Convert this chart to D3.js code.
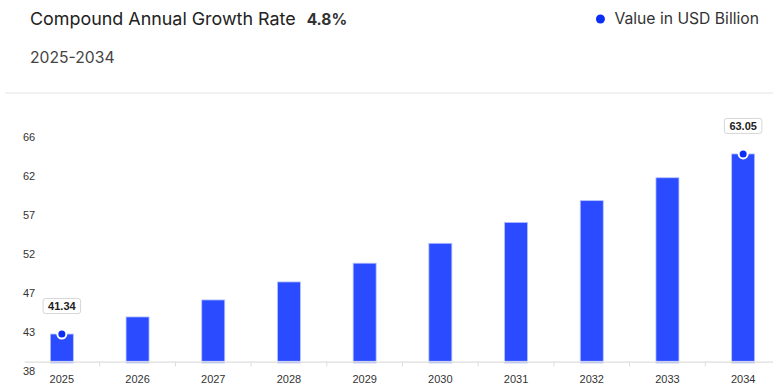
<!DOCTYPE html>
<html>
<head>
<meta charset="utf-8">
<script src="https://cdn.jsdelivr.net/npm/d3@7"></script>
<style>
  html, body { margin: 0; padding: 0; background: #fff; }
  svg { display: block; }
</style>
</head>
<body>
<svg id="chart" width="773" height="385"></svg>
<script>
// Market size by year, USD billion
const years = ["2025", "2026", "2027", "2028", "2029", "2030", "2031", "2032", "2033", "2034"];
const values = [41.34, 43.4, 45.45, 47.62, 49.88, 52.28, 54.8, 57.42, 60.18, 63.05];
const yTickLabels = ["38", "43", "47", "52", "57", "62", "66"];
const labelledYears = ["2025", "2034"];
const cagrText = "4.8%";
const periodText = "2025-2034";
const legendText = "Value in USD Billion";

const W = 773, H = 385;
const svg = d3.select("#chart");
const barColor = "#2a4bff";
const dotColor = "#0a2ef5";

// Header
const header = svg.append("g").attr("font-family", "Inter, 'Noto Sans', sans-serif");
const title = header.append("text")
  .attr("x", 30).attr("y", 25)
  .attr("font-size", 17.9).attr("fill", "#222")
  .text("Compound Annual Growth Rate");
const tw = title.node().getComputedTextLength();
header.append("text")
  .attr("x", 30 + tw + 11).attr("y", 25)
  .attr("font-size", 15.5).attr("font-weight", 700).attr("fill", "#333")
  .text(cagrText);
header.append("text")
  .attr("x", 30).attr("y", 63)
  .attr("font-size", 15.7).attr("fill", "#444")
  .text(periodText);

// Legend
const legend = svg.append("g").attr("font-family", "Inter, 'Noto Sans', sans-serif");
const legendLabel = legend.append("text")
  .attr("x", 759).attr("y", 24).attr("text-anchor", "end")
  .attr("font-size", 15.7).attr("fill", "#333")
  .text(legendText);
const lw = legendLabel.node().getComputedTextLength();
legend.append("circle")
  .attr("cx", 759 - lw - 14).attr("cy", 19).attr("r", 4.5)
  .attr("fill", dotColor);

// Separator
svg.append("line")
  .attr("x1", 5).attr("x2", W).attr("y1", 93).attr("y2", 93)
  .attr("stroke", "#ececec").attr("stroke-width", 1.5);

// Scales
const plotLeft = 24, plotRight = 781, plotTop = 127.8, plotBottom = 361.5;
const x = d3.scaleBand().domain(years).range([plotLeft, plotRight]);
const yMin = 38.03, yMax = 66.2;
const y = d3.scaleLinear().domain([yMin, yMax]).range([plotBottom, plotTop]);
const yTickValues = d3.range(yTickLabels.length).map(i => yMin + i * (yMax - yMin) / (yTickLabels.length - 1));

// Y axis labels (sit just below their tick positions)
const yAxis = d3.axisLeft(y).tickValues(yTickValues).tickSize(0)
  .tickFormat((d, i) => yTickLabels[i]);
const yg = svg.append("g").attr("transform", `translate(${plotLeft - 1},0)`).call(yAxis);
yg.select(".domain").remove();
yg.selectAll("text")
  .attr("x", 0).attr("dy", "0.8em").attr("y", 4)
  .attr("text-anchor", "start")
  .attr("font-family", "Arial, 'Liberation Sans', sans-serif")
  .attr("font-size", 11).attr("fill", "#333");

// Bars
const barW = 23;
svg.append("g").selectAll("rect")
  .data(years.map((yr, i) => ({ yr, v: values[i] })))
  .join("rect")
  .attr("x", d => x(d.yr) + x.bandwidth() / 2 - barW / 2)
  .attr("y", d => y(d.v))
  .attr("width", barW)
  .attr("height", d => plotBottom + 1.5 - y(d.v))
  .attr("fill", barColor)
  .attr("stroke", "#b8c3ff").attr("stroke-width", 0.8);

// X axis
const xAxis = d3.axisBottom(x).tickSize(0).tickSizeOuter(0);
const xg = svg.append("g").attr("transform", `translate(0,${plotBottom})`).call(xAxis);
xg.select(".domain").attr("stroke", "#dcdcdc").attr("stroke-width", 1.5);
xg.selectAll("text")
  .attr("y", 14)
  .attr("font-family", "Arial, 'Liberation Sans', sans-serif")
  .attr("font-size", 11).attr("fill", "#333");
// Category separators on the baseline
xg.append("g").selectAll("line")
  .data(years.slice(1))
  .join("line")
  .attr("x1", d => x(d)).attr("x2", d => x(d))
  .attr("y1", 0).attr("y2", 5)
  .attr("stroke", "#dcdcdc");
// light strip across bar feet
svg.append("line")
  .attr("x1", plotLeft).attr("x2", W).attr("y1", plotBottom).attr("y2", plotBottom)
  .attr("stroke", "rgba(255,255,255,0.35)").attr("stroke-width", 1.5);

// Value markers and labels for the first and last year
const marks = svg.append("g");
labelledYears.forEach(yr => {
  const i = years.indexOf(yr);
  const cx = x(yr) + x.bandwidth() / 2;
  const cy = y(values[i]);
  marks.append("circle")
    .attr("cx", cx).attr("cy", cy).attr("r", 4.5)
    .attr("fill", dotColor).attr("stroke", "#fff").attr("stroke-width", 2);
  const bx = marks.append("g").attr("transform", `translate(${cx},${cy - 28})`);
  const t = bx.append("text")
    .attr("text-anchor", "middle").attr("y", 4)
    .attr("font-family", "Arial, 'Liberation Sans', sans-serif")
    .attr("font-size", 11).attr("font-weight", 700).attr("fill", "#222")
    .text(values[i].toFixed(2));
  const w = t.node().getComputedTextLength() + 10;
  bx.insert("rect", "text")
    .attr("x", -w / 2).attr("y", -7.5).attr("width", w).attr("height", 15)
    .attr("rx", 2.5)
    .attr("fill", "#fff").attr("stroke", "#d6d6d6");
});
</script>
</body>
</html>
